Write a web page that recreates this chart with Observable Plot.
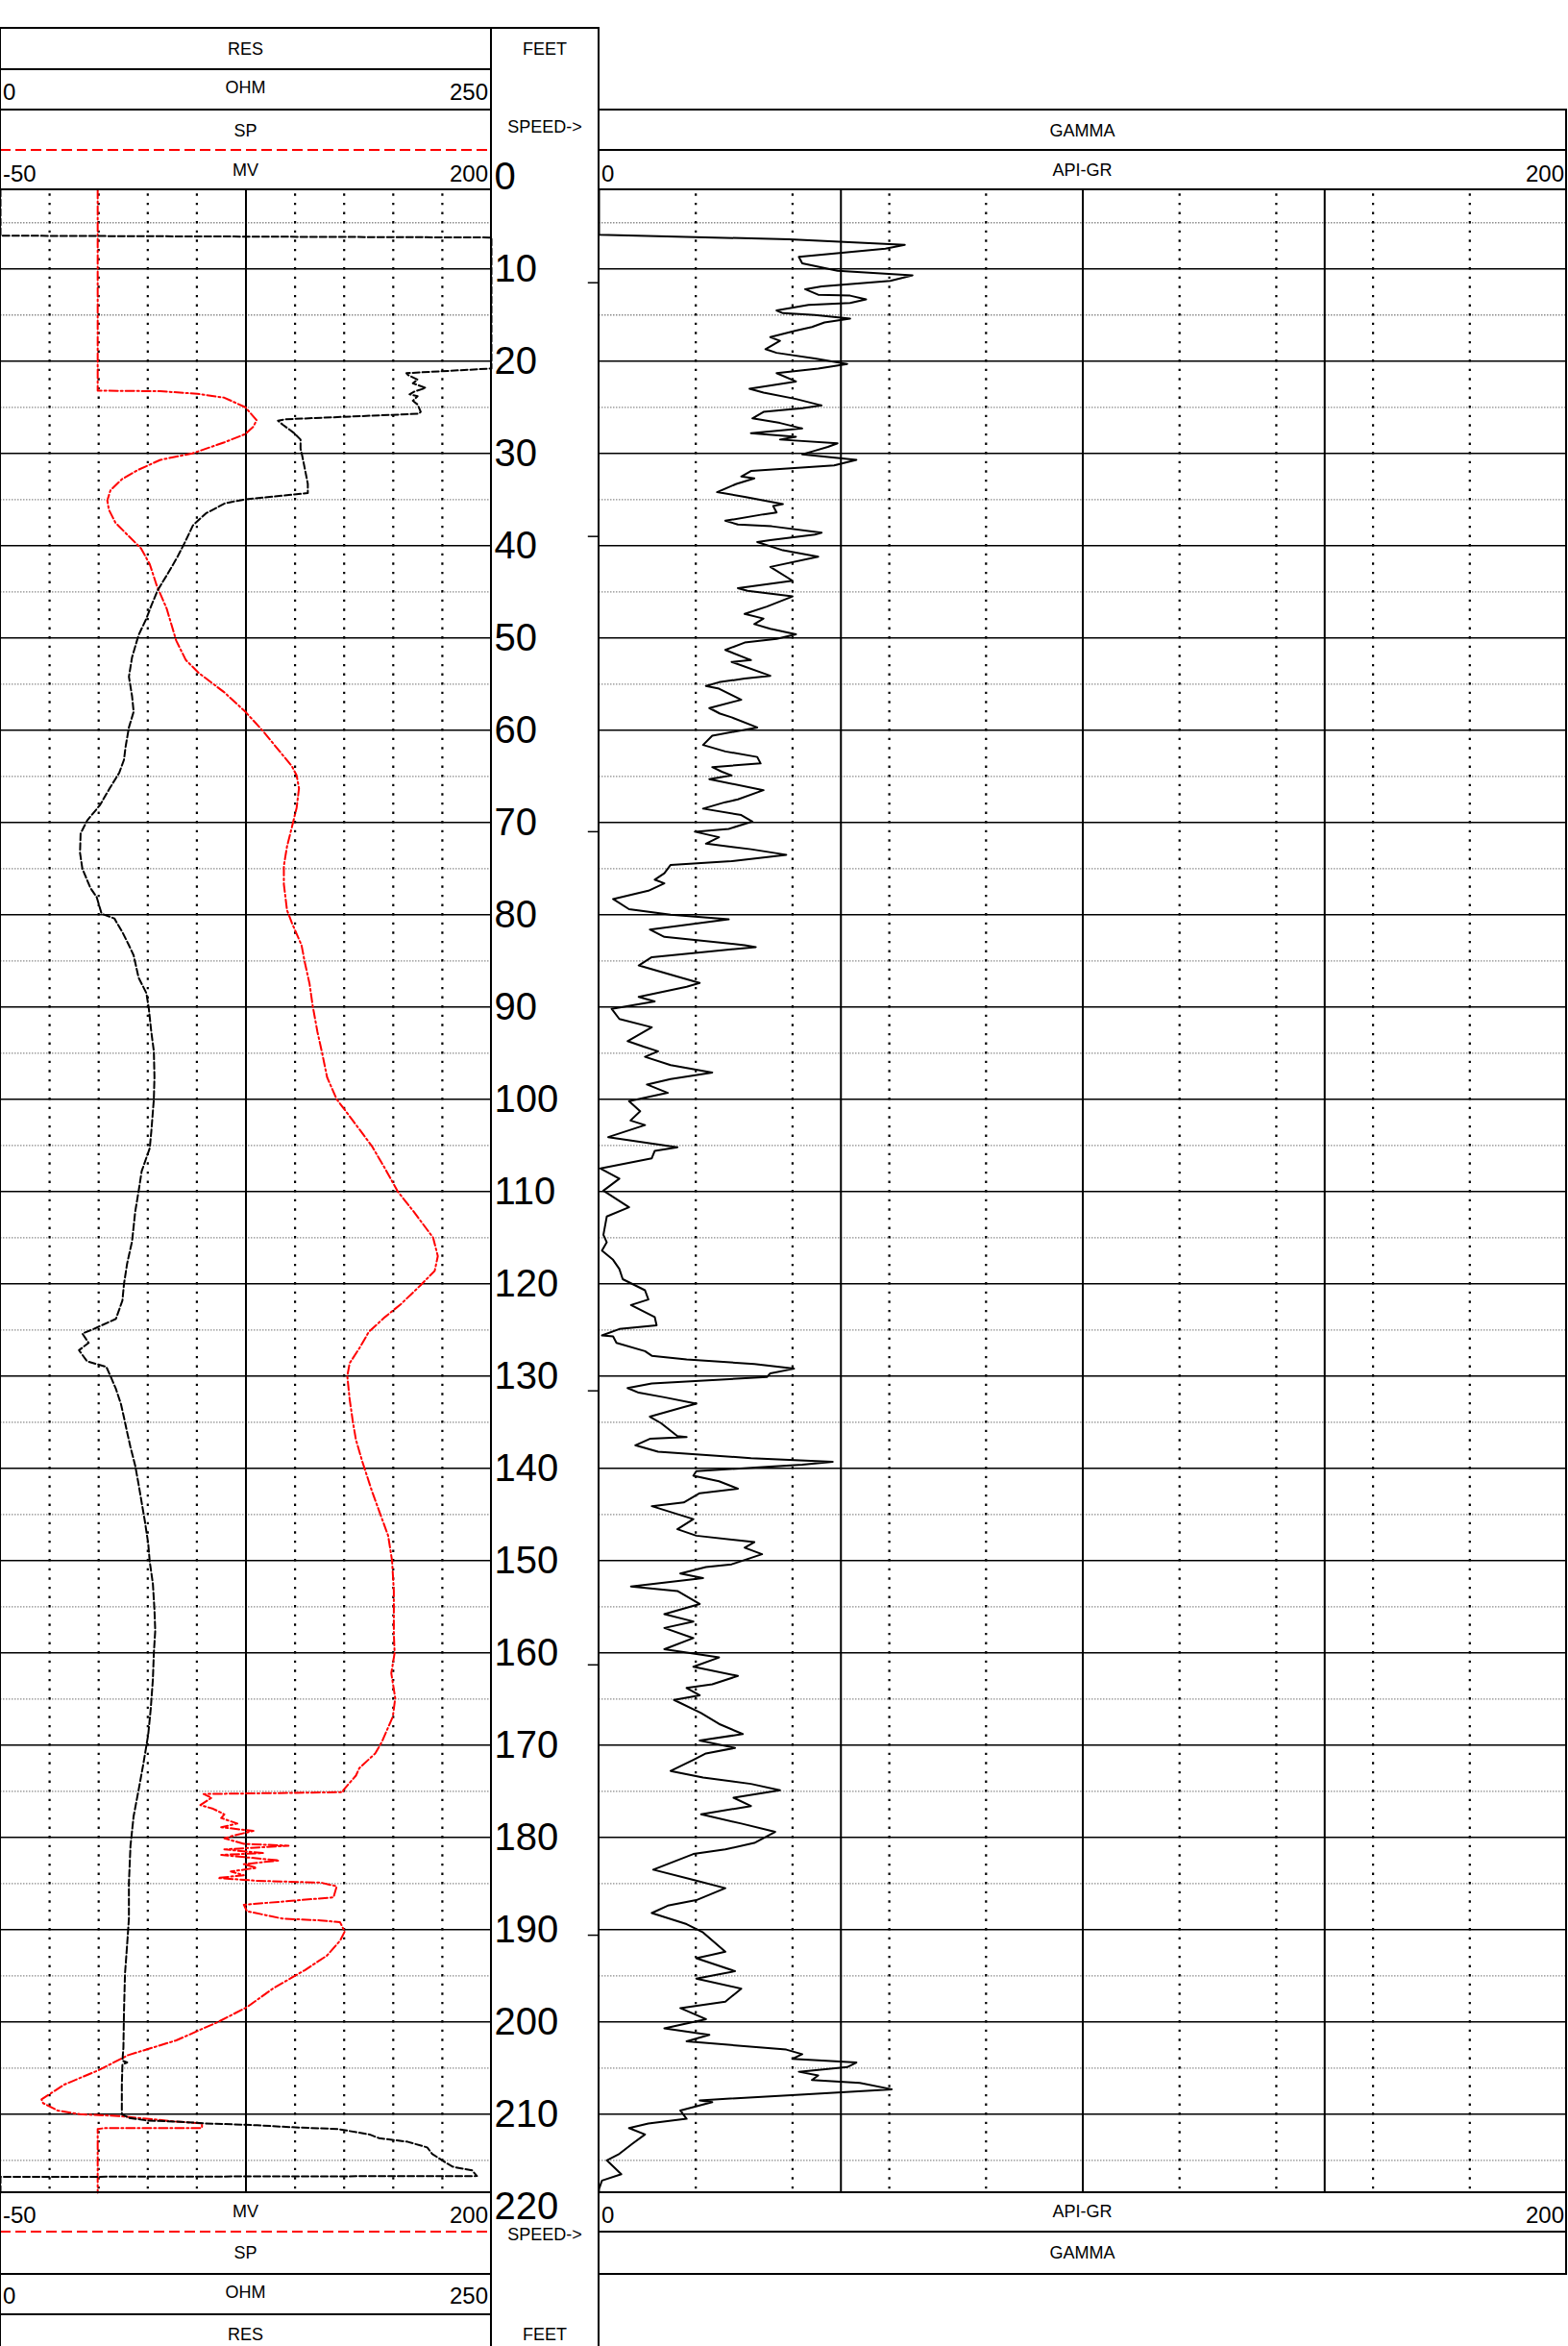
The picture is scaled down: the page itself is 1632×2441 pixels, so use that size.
<!DOCTYPE html>
<html><head><meta charset="utf-8">
<script src="https://cdn.jsdelivr.net/npm/d3@7"></script>
<script src="https://cdn.jsdelivr.net/npm/@observablehq/plot@0.6"></script>
<style>
html,body{margin:0;padding:0;background:#fff;}
#wrap{position:relative;width:1632px;height:2441px;overflow:hidden;background:#fff;}
</style></head><body><div id="wrap"></div>
<script>
// ---------------- data ----------------
const DEPTH_TOP = 1.43, DEPTH_BOTTOM = 218.51;          // visible depth window (feet)
const DEPTH_LABELS = [0,10,20,30,40,50,60,70,80,90,100,110,120,130,140,150,160,170,180,190,200,210,220];
const DEPTH_MAJOR = [10,20,30,40,50,60,70,80,90,100,110,120,130,140,150,160,170,180,190,200,210];
const DEPTH_MINOR = [5,15,25,35,45,55,65,75,85,95,105,115,125,135,145,155,165,175,185,195,205,215];
const SPEED_TICKS = [11.5, 39, 71, 131.6, 161.3, 190.6];
const SP_GRID_DOTTED = [-25, 0, 25, 50, 100, 125, 150, 175];
const SP_GRID_SOLID = [75];
const GR_GRID_DOTTED = [20, 40, 60, 80, 120, 140, 160, 180];
const GR_GRID_SOLID = [50, 100, 150];

// [depth ft, SP mV]
const SP = [[1.43,-0.5],[23.2,-0.5],[23.26,31.4],[23.54,50.2],[23.96,64],[25.0,74.7],[26.4,80.4],[27.1,78.8],[27.9,74.7],[28.8,64],[30.0,47.7],[30.7,31.4],[31.8,19.9],[32.8,11.8],[34.0,6],[35.1,4.4],[36.1,5.2],[37.5,8.5],[38.9,15],[40.3,21.6],[42,26],[44.4,29.7],[46.8,34.6],[50.3,39.5],[52.4,44.4],[53.8,51],[55.9,64],[58.0,74.7],[60.1,83.7],[62.2,91.8],[63.9,98.4],[64.9,100.8],[66.3,102],[68.4,100.8],[70.5,98.4],[72.6,95.9],[74.7,94.3],[76.7,94.3],[79.5,95.9],[80.9,98.4],[83.3,103.3],[85.1,104.9],[87.5,107.4],[89.9,109],[92.7,111.4],[95.1,113.9],[97.6,116.3],[100,121.2],[102.3,129.4],[105.1,139.2],[107.5,145.8],[110,152.3],[112.2,160.5],[115,170.3],[117,172.7],[118.6,171.1],[120.2,163.7],[122.2,153.9],[123.6,145.8],[125.2,137.6],[127,132.7],[128.6,127.8],[130,126.6],[132.5,127.8],[134.9,129.4],[136.9,131],[139.3,134.3],[142.5,139.2],[144.9,143.3],[147.3,147.4],[150,149.4],[153.3,150.3],[158,150.3],[160,150.7],[162.2,149],[164.9,151],[166.9,149.8],[169.7,144.1],[170.9,140.8],[172.5,132.7],[173.3,131],[174.9,124.5],[175.1,124.5],[175.3,53.4],[175.7,57.5],[176.5,51.8],[176.9,58.3],[177.5,64],[177.9,62.4],[178.5,70.6],[178.9,62.4],[179.3,78.8],[179.7,70.6],[180.1,64],[180.7,73.9],[180.9,96.7],[181.3,64],[181.7,83.7],[181.9,62.4],[182.5,91.8],[182.9,73.9],[183.3,80.4],[183.7,67.3],[184.1,73.9],[184.4,60.8],[184.7,80.4],[184.9,113.1],[185.3,121.2],[186.5,119.6],[186.9,96.7],[187.3,73.9],[188.0,75.5],[188.8,93.5],[189.0,113.1],[189.2,122.9],[190.2,125.3],[191.2,122.9],[192.8,116.3],[194.4,104.9],[196.4,88.6],[198.4,75.5],[200,60.8],[202,39.5],[203.6,15],[205.2,0.3],[206.8,-17.6],[208.4,-29.1],[208.8,-28.3],[209.6,-20.9],[210,-9.5],[210.2,10.1],[210.8,39.5],[211,52.6],[211.5,52.6],[211.5,3.6],[211.6,-0.5],[218.51,-0.5]];

// [depth ft, RES ohm]
const RES = [[1.43,0],[6.4,0],[6.6,250],[20.8,250],[21.3,206.7],[21.5,207.5],[22.0,212.4],[22.4,210],[22.9,216.5],[23.3,210.8],[23.6,208.3],[23.8,212.4],[24.3,210],[24.7,212.4],[25.5,214],[25.7,213],[26.3,145],[26.45,141.3],[26.9,143.8],[27.4,147],[27.8,149.5],[28.5,152.8],[29.5,152.8],[30.2,153.6],[31.9,155.2],[33.3,156.5],[34.3,156.5],[35.0,124.2],[35.4,114.4],[36.5,104.6],[37.8,98],[39.6,94],[41.3,89.9],[43.1,85],[44.8,80.1],[46.5,76.8],[47.9,74.3],[49.7,70.3],[52.1,67],[54.2,65.4],[56.3,67],[58.0,67.8],[59.7,65.4],[61.8,63.7],[63.2,62.9],[64.6,60.5],[66.3,55.6],[68.1,50.7],[69.8,44.1],[71.2,40.8],[73.3,40.5],[75.0,41.7],[77.1,45.8],[78.1,49],[79.9,51.5],[80.4,58],[81.9,62.1],[83.3,65.4],[84.4,67.8],[86.8,70.3],[88.5,74.3],[90.1,75.5],[92.7,76.8],[94.8,78.1],[97.6,78.4],[100,78.1],[103.5,76.8],[105.3,76],[107.8,71.9],[110,70.3],[112.2,68.6],[115.4,67],[117.8,64.5],[120,62.9],[121.8,62.1],[123.8,58.8],[124.9,47.4],[125.4,41.7],[126.4,44.9],[127.2,40],[128.4,44.1],[129,53.9],[130.2,56.4],[131.4,58.8],[133,61.3],[134.5,62.9],[136.1,64.5],[137.7,66.2],[139.7,68.6],[141.7,70.3],[143.7,71.9],[145.7,73.5],[148.1,75.2],[150.1,76],[152.5,77.6],[155.3,78.4],[157.6,78.8],[160,78.1],[162.9,77.6],[166.1,76.5],[168.9,75.2],[172.1,72.7],[174.9,70.3],[177.7,67.8],[180.9,66.2],[184.9,65.4],[188.8,65.4],[191.6,64.5],[194.8,63.4],[198.8,62.9],[202.8,62.6],[204.2,62.1],[204.4,64.5],[204.6,62.1],[206.8,61.8],[210,61.8],[210.4,65.4],[210.7,75.2],[210.8,89.9],[211,104.6],[211.2,130.7],[211.4,147],[211.6,171.6],[212.2,187.9],[212.6,192.8],[213,207.5],[213.6,217.3],[214.3,219.8],[215.3,227.1],[215.7,230.4],[216.1,240.2],[216.7,242.6],[216.8,0],[218.51,0]];

// [depth ft, GAMMA API]
const GAMMA = [[1.43,0],[6.3,0],[6.8,39.3],[7.4,63.2],[7.8,59.2],[8.7,41.3],[9.4,42],[10.2,49.3],[10.7,64.8],[11.3,60.2],[11.9,46],[12.2,42.6],[12.8,45.3],[12.9,51.9],[13.3,55.2],[13.7,51.9],[13.9,43.3],[14.5,36.7],[14.8,38],[15.0,44.6],[15.4,51.9],[15.8,46.6],[16.3,44],[16.7,40.7],[17.4,35.4],[17.8,37.4],[18.7,34.4],[19.1,36.7],[19.7,44.6],[20.3,51.3],[20.8,45.3],[21.3,36.7],[22.2,40.7],[23.0,31.1],[23.4,34],[24.1,40.7],[24.8,46],[25.1,42],[25.5,34],[26.2,31.7],[26.7,37.4],[27.3,42],[27.8,31.4],[28.2,40.7],[28.5,37.4],[28.9,49.3],[29.3,47.3],[29.8,44],[30.1,42],[30.7,53.2],[31.3,48.6],[31.9,31.4],[32.5,29.4],[32.7,32.1],[33.3,28.4],[34.2,24.4],[34.7,30.1],[35.5,38],[35.7,36],[36.4,36.7],[36.6,34],[37.3,26.1],[37.7,28.7],[37.9,35.7],[38.6,46],[38.8,44.6],[39.4,35.4],[39.6,32.7],[40.5,38],[41.2,45.3],[42.3,35.4],[43.8,40],[44.6,28.7],[44.9,30.7],[45.5,40],[46.6,34.7],[47.4,30.1],[47.9,34],[48.5,32.1],[49.0,35.4],[49.6,40.7],[50.1,36.7],[50.5,30.1],[51.3,26.1],[52.4,31.4],[52.6,27.4],[54.1,35.4],[54.4,30.1],[54.8,24.8],[55.2,22.1],[55.5,24.8],[56.7,29.4],[57.6,22.8],[58.2,25],[58.6,27.4],[59.7,32.7],[60.6,23.4],[61.6,21.5],[62.3,26.1],[62.9,32.7],[63.6,33.4],[64.0,23.4],[64.5,25.4],[64.9,27.4],[65.3,22.8],[66.5,34],[67.5,28.7],[67.8,26.1],[68.5,21.5],[69.2,29.4],[69.9,31.7],[70.7,26.8],[71.0,19.8],[71.6,24.8],[72.3,22.1],[72.9,31.4],[73.5,38.7],[74.2,27.4],[74.6,14.8],[75.5,13.5],[76.2,11.5],[76.6,13.5],[77.4,10.2],[78.3,2.9],[79.4,6.2],[80.0,14.8],[80.5,26.8],[81.6,10.5],[82.4,13.5],[83.3,30.1],[83.5,32.4],[84.6,10.9],[85.5,8.2],[86.8,16.8],[87.4,20.8],[87.8,18.1],[88.9,8.2],[89.4,11.5],[90.2,2.6],[91.3,4.2],[92.2,10.9],[93.7,5.9],[94.3,9.2],[94.8,12.2],[95.4,9.5],[96.3,14.8],[97.1,23.4],[97.8,14.8],[98.4,9.9],[99.3,14.2],[100.2,6.2],[101.3,8.5],[102.3,6.5],[102.8,9.5],[104.1,1.9],[105.2,16.2],[105.6,11.5],[106.4,10.9],[107.5,0.3],[108.6,4.2],[109.9,0.9],[111.7,6.2],[112.7,1.6],[114.7,0.9],[115.5,1.6],[116.4,0.6],[117.4,2.9],[118.4,4.2],[119.5,4.9],[120.7,9.5],[121.7,10.2],[122.3,6.6],[123.6,11.5],[124.5,11.9],[124.9,4.2],[125.6,0.6],[125.7,2.9],[126.4,3.6],[127.3,9.5],[127.8,10.9],[128.2,18.1],[128.7,32.1],[129.2,40.3],[129.7,35.4],[130.1,34.7],[130.8,10.9],[131.3,5.9],[131.8,8.2],[132.3,13.5],[133.0,20.1],[133.4,17.2],[134.4,10.5],[135.1,12.8],[136.5,16.2],[136.6,18.1],[136.8,10.5],[137.5,7.5],[138.2,12.2],[138.9,31.4],[139.3,48.3],[139.6,42],[140.3,20.1],[140.8,19.5],[141.4,24.8],[142.2,28.7],[142.7,20.8],[143.7,17.5],[144.1,10.9],[145.5,19.5],[146.6,16.2],[147.3,20.1],[148.0,32.1],[148.6,30.1],[149.3,33.7],[150.4,27.4],[150.7,22.1],[151.4,16.8],[151.9,21.5],[152.8,6.6],[153.3,16.2],[154.7,20.8],[155.8,13.5],[156.6,19.5],[157.3,13.5],[158.4,19.5],[159.6,13.5],[160.5,24.8],[161.5,19.5],[162.5,28.7],[163.4,23.4],[163.8,18.1],[164.6,20.8],[165.1,15.5],[166.5,21],[167.7,24.8],[168.8,29.7],[169.5,20.8],[170.3,28.1],[170.9,22.1],[171.6,19.5],[172.8,14.8],[173.5,21.5],[174.2,31.4],[174.9,37.4],[175.7,27.8],[176.6,31.4],[177.5,21.1],[178.5,29.4],[179.4,36.4],[180.6,32.1],[181.3,26.1],[181.8,19.5],[183.5,11.2],[184.6,19.5],[185.5,26.1],[186.8,20.1],[187.4,14.2],[188.2,10.9],[189.4,18.1],[190.3,21.5],[192.4,26.1],[193.1,20.1],[194.5,28.1],[195.3,20.1],[196.4,29.4],[197.8,26.1],[198.5,16.8],[199.7,22.1],[200.7,13.5],[201.4,22.8],[202.1,18.1],[203.0,38.7],[203.5,42],[204.0,40],[204.4,53.2],[204.9,51.3],[205.4,41.3],[205.8,45.3],[206.3,44],[206.6,53.9],[207.3,60.5],[207.9,40.7],[208.5,20.8],[208.7,23.4],[209.6,16.8],[210.5,18.1],[211.0,10.2],[211.5,6.2],[212.2,9.5],[213.2,6.9],[214.3,4.2],[215.0,1.6],[216.5,4.6],[217.2,0.6],[218.1,0],[218.51,0]];

// ---------------- layout ----------------
const FONT = '"Liberation Sans", Arial, Helvetica, sans-serif';
const wrap = document.getElementById("wrap");
const TOP = 197, BOT = 2281;             // plot frame in page px
const L0 = 0, L1 = 511, C1 = 623, R1 = 1630;
const H = BOT - TOP;
const yScale = {domain: [DEPTH_TOP, DEPTH_BOTTOM], reverse: true, axis: null};
const svgStyle = {background: "transparent", overflow: "visible", maxWidth: "none"};

function place(el, left, top) {
  el.style.position = "absolute";
  el.style.left = left + "px";
  el.style.top = top + "px";
  wrap.appendChild(el);
}

function gridMarks(dotted, solid) {
  return [
    Plot.ruleY(DEPTH_MINOR, {stroke: "#8c8c8c", strokeWidth: 1.3, strokeDasharray: "1.5,1.5"}),
    Plot.ruleY(DEPTH_MAJOR, {stroke: "#000", strokeWidth: 1.4}),
    Plot.ruleX(dotted, {stroke: "#000", strokeWidth: 2.2, strokeDasharray: "2.4,7.2", strokeDashoffset: 5.3}),
    Plot.ruleX(solid, {stroke: "#000", strokeWidth: 2})
  ];
}

// Left track: SP (mV) with grid
const spPlot = Plot.plot({
  width: L1 - L0, height: H, margin: 0, style: svgStyle,
  x: {domain: [-50, 200], axis: null}, y: yScale,
  marks: [
    ...gridMarks(SP_GRID_DOTTED, SP_GRID_SOLID),
    Plot.line(SP, {x: d => d[1], y: d => d[0], stroke: "#ff0000", strokeWidth: 2, strokeDasharray: "9,3,2,3"})
  ]
});
place(spPlot, L0, TOP);

// Left track overlay: RES (ohm)
const resPlot = Plot.plot({
  width: L1 - L0, height: H, margin: 0, style: svgStyle,
  x: {domain: [0, 250], axis: null}, y: yScale,
  marks: [
    Plot.line(RES, {x: d => d[1], y: d => d[0], stroke: "#000", strokeWidth: 2, strokeDasharray: "7,3"})
  ]
});
place(resPlot, L0, TOP);

// Depth column
const depthTop = 29, depthBottom = 2441;
const depthPlot = Plot.plot({
  width: C1 - L1, height: depthBottom - depthTop,
  marginTop: TOP - depthTop, marginBottom: depthBottom - BOT, marginLeft: 0, marginRight: 0,
  style: svgStyle,
  x: {domain: [0, 1], axis: null}, y: yScale,
  marks: [
    Plot.text(DEPTH_LABELS, {x: 0, y: d => d, text: d => String(d), textAnchor: "start", dx: 3,
      fontSize: 40, fontFamily: FONT, fill: "#000"}),
    Plot.ruleY(SPEED_TICKS, {x1: 0.9, x2: 1, stroke: "#000", strokeWidth: 1.5})
  ]
});
place(depthPlot, L1, depthTop);

// Right track: GAMMA
const grPlot = Plot.plot({
  width: R1 - C1, height: H, margin: 0, style: svgStyle,
  x: {domain: [0, 200], axis: null}, y: yScale,
  marks: [
    ...gridMarks(GR_GRID_DOTTED, GR_GRID_SOLID),
    Plot.line(GAMMA, {x: d => d[1], y: d => d[0], stroke: "#000", strokeWidth: 2})
  ]
});
place(grPlot, C1, TOP);

// ---------------- headers / borders ----------------
const ov = d3.create("svg").attr("width", 1632).attr("height", 2441)
  .style("pointer-events", "none").style("overflow", "visible");
function hline(y, x1, x2, opts = {}) {
  ov.append("line").attr("x1", x1).attr("x2", x2).attr("y1", y).attr("y2", y)
    .attr("stroke", opts.color || "#000").attr("stroke-width", opts.w || 2)
    .attr("stroke-dasharray", opts.dash || null);
}
function vline(x, y1, y2, w = 2) {
  ov.append("line").attr("x1", x).attr("x2", x).attr("y1", y1).attr("y2", y2)
    .attr("stroke", "#000").attr("stroke-width", w);
}
function label(t, x, y, size, anchor = "middle") {
  ov.append("text").attr("x", x).attr("y", y).attr("font-size", size).attr("font-family", FONT)
    .attr("text-anchor", anchor).attr("dominant-baseline", "central").attr("fill", "#000").text(t);
}
const red = {color: "#ff0000", dash: "11,5", w: 2};
// top
hline(29, 0, C1);
hline(72, 0, L1);
hline(114, 0, L1); hline(114, C1, R1 + 1);
hline(156, 0, L1, red); hline(156, C1, R1);
hline(TOP, 0, L1); hline(TOP, C1, R1);
// bottom
hline(BOT, 0, L1); hline(BOT, C1, R1);
hline(2322, 0, L1, red); hline(2322, C1, R1);
hline(2366, 0, L1); hline(2366, C1, R1 + 1);
hline(2408, 0, L1);
// verticals
vline(0.5, 29, 2441, 1);
vline(L1, 28, 2441);
vline(C1, 28, 2441);
vline(R1, 113, 2367);

const cL = (L0 + L1) / 2, cD = (L1 + C1) / 2, cR = (C1 + R1) / 2;
// top texts
label("RES", cL, 51, 18);
label("0", 3, 95, 24, "start"); label("OHM", cL, 91, 18); label("250", 508, 95, 24, "end");
label("SP", cL, 136, 18);
label("-50", 3, 180, 24, "start"); label("MV", cL, 177, 18); label("200", 508, 180, 24, "end");
label("FEET", cD, 51, 18);
label("SPEED->", cD, 132, 18);
label("GAMMA", cR, 136, 18);
label("0", 626, 180, 24, "start"); label("API-GR", cR, 177, 18); label("200", 1628, 180, 24, "end");
// bottom texts
label("-50", 3, 2304, 24, "start"); label("MV", cL, 2301, 18); label("200", 508, 2304, 24, "end");
label("SP", cL, 2344, 18);
label("0", 3, 2388, 24, "start"); label("OHM", cL, 2385, 18); label("250", 508, 2388, 24, "end");
label("RES", cL, 2429, 18);
label("SPEED->", cD, 2325, 18);
label("FEET", cD, 2429, 18);
label("0", 626, 2304, 24, "start"); label("API-GR", cR, 2301, 18); label("200", 1628, 2304, 24, "end");
label("GAMMA", cR, 2344, 18);

place(ov.node(), 0, 0);
</script></body></html>
